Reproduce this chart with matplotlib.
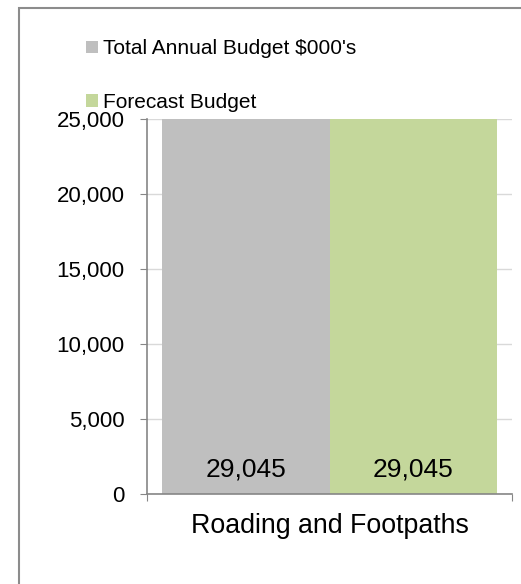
import matplotlib.pyplot as plt
from matplotlib.patches import Rectangle, Patch

plt.rcParams['font.family'] = ['Liberation Sans', 'DejaVu Sans']

category = "Roading and Footpaths"
series_names = ["Total Annual Budget $000's", "Forecast Budget"]
series_values = [29045, 29045]
colors = ['#BFBFBF', '#C4D79B']
yticks = [0, 5000, 10000, 15000, 20000, 25000]


def main():
    fig = plt.figure(figsize=(5.21, 5.84), dpi=100)

    # outer chart border (runs off the right and bottom edges)
    fig.patches.append(Rectangle((19 / 521, -0.1), 1.2, 1 - 8 / 584 + 0.1,
                                 transform=fig.transFigure, fill=False,
                                 edgecolor='#8C8C8C', lw=1.5))

    ax = fig.add_axes([147 / 521, 90 / 584, 365 / 521, 375 / 584])

    width = 0.46
    offsets = [-width / 2, width / 2]
    for name, val, c, off in zip(series_names, series_values, colors, offsets):
        ax.bar(off, val, width=width, color=c, label=name, zorder=2)
        ax.text(off, 1600, f"{val:,}", ha='center', va='center', fontsize=19, zorder=3)

    ax.set_xlim(-0.5, 0.5)
    ax.set_ylim(0, 25000)
    ax.set_yticks(yticks)
    ax.set_yticklabels([f"{t:,}" for t in yticks], fontsize=16)
    ax.yaxis.grid(True, color='#D9D9D9', lw=1, zorder=0)

    ax.set_xticks([-0.5, 0.5])
    ax.set_xticklabels(['', ''])
    ax.set_xticks([0], minor=True)
    ax.set_xticklabels([category], minor=True, fontsize=19.3)
    ax.tick_params(axis='x', which='minor', length=0, pad=14)
    ax.tick_params(axis='x', which='major', length=5, color='#868686')
    ax.tick_params(axis='y', length=5, color='#868686', pad=11)

    for s in ['top', 'right']:
        ax.spines[s].set_visible(False)
    for s in ['left', 'bottom']:
        ax.spines[s].set_color('#868686')
        ax.spines[s].set_linewidth(1.2)

    handles = [Patch(facecolor=c, edgecolor='none') for c in colors]
    fig.legend(handles, series_names, loc='upper left',
               bbox_to_anchor=(76 / 521, 1 - 29 / 584), frameon=False,
               fontsize=15, handlelength=0.55, handleheight=0.55,
               handletextpad=0.25, labelspacing=1.65, borderpad=0)

    fig.savefig('out.png', dpi=100)


if __name__ == "__main__":
    main()
